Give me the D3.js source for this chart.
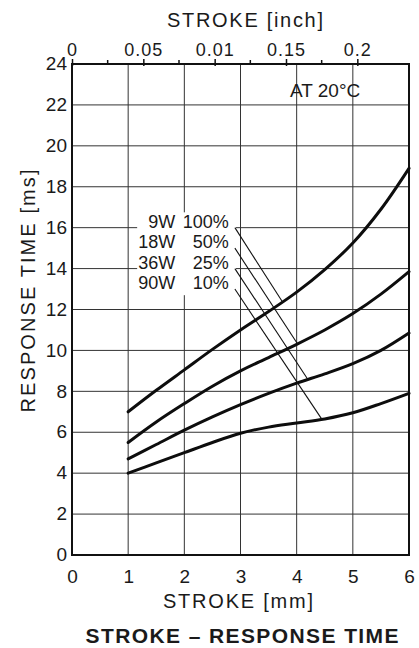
<!DOCTYPE html>
<html>
<head>
<meta charset="utf-8">
<script src="https://cdn.jsdelivr.net/npm/d3@7"></script>
<style>
  html, body { margin: 0; padding: 0; background: #fff; }
  svg text { font-family: "Liberation Sans", Arial, Helvetica, sans-serif; fill: #1a1a1a; }
</style>
</head>
<body>
<div id="chart"></div>
<script>
// stroke positions (mm) where the curves were read
const strokeMm = [1, 1.5, 2, 2.5, 3, 3.5, 4, 4.5, 5, 5.5, 6];

// response time (ms) per drive power / duty
const time9W  = [7.0, 8.05, 9.05, 10.05, 11.0, 11.9, 12.85, 13.95, 15.25, 16.9, 18.9];
const time18W = [5.5, 6.5, 7.4, 8.25, 9.0, 9.65, 10.3, 11.0, 11.8, 12.75, 13.85];
const time36W = [4.7, 5.4, 6.1, 6.75, 7.35, 7.9, 8.4, 8.85, 9.35, 10.0, 10.85];
const time90W = [4.0, 4.5, 5.0, 5.5, 5.95, 6.25, 6.45, 6.65, 6.95, 7.4, 7.9];

// legend text + leader lines (label row level in ms, end point on curve)
const labelPower = ["9W", "18W", "36W", "90W"];
const labelDuty = ["100%", "50%", "25%", "10%"];
const labelLevel = [16, 15, 14, 13];
const leaderEnd = [[3.74, 12.4], [4.02, 10.3], [4.2, 8.58], [4.45, 6.63]];

// tick labels
const mmTicks = [0, 1, 2, 3, 4, 5, 6];
const msTicks = [0, 2, 4, 6, 8, 10, 12, 14, 16, 18, 20, 22, 24];
const inchTicks = [0, 0.05, 0.1, 0.15, 0.2];
const inchTickLabels = ["0", "0.05", "0.01", "0.15", "0.2"];
const inchMinorTicks = [0.025, 0.075, 0.125, 0.175];

const width = 419;
const height = 648;
const margin = { top: 64, right: 10, bottom: 93, left: 72 };

const svg = d3.select("#chart").append("svg")
    .attr("width", width)
    .attr("height", height)
    .attr("viewBox", `0 0 ${width} ${height}`);

const x = d3.scaleLinear().domain([0, 6]).range([margin.left, width - margin.right]);
const y = d3.scaleLinear().domain([0, 24]).range([height - margin.bottom, margin.top]);
// inch scale shares the pixel range with the mm scale
const xInch = d3.scaleLinear().domain([0, 6 / 25.4]).range(x.range());

// grid
const grid = svg.append("g").attr("stroke", "#333").attr("stroke-width", 1);
grid.selectAll(".vgrid")
    .data(mmTicks.slice(1, -1))
    .join("line")
    .attr("x1", d => x(d)).attr("x2", d => x(d))
    .attr("y1", y(0)).attr("y2", y(24));
grid.selectAll(".hgrid")
    .data(msTicks.slice(1, -1))
    .join("line")
    .attr("x1", x(0)).attr("x2", x(6))
    .attr("y1", d => y(d)).attr("y2", d => y(d));

// frame
svg.append("rect")
    .attr("x", x(0)).attr("y", y(24))
    .attr("width", x(6) - x(0)).attr("height", y(0) - y(24))
    .attr("fill", "none").attr("stroke", "#111").attr("stroke-width", 2);

// bottom axis (mm)
const xAxis = svg.append("g")
    .attr("transform", `translate(0,${y(0)})`)
    .call(d3.axisBottom(x).tickValues(mmTicks).tickSize(0).tickPadding(10).tickFormat(d3.format("d")));
xAxis.select(".domain").remove();
xAxis.selectAll("text").attr("font-size", 19).attr("dy", "0.95em");

// left axis (ms)
const yAxis = svg.append("g")
    .attr("transform", `translate(${x(0)},0)`)
    .call(d3.axisLeft(y).tickValues(msTicks).tickSize(0).tickPadding(5).tickFormat(d3.format("d")));
yAxis.select(".domain").remove();
yAxis.selectAll("text").attr("font-size", 19).attr("dy", "0.3em");

// top axis (inch)
const topAxis = svg.append("g")
    .attr("transform", `translate(0,${y(24)})`)
    .call(d3.axisTop(xInch).tickValues(inchTicks).tickSize(5).tickPadding(3)
        .tickFormat((d, i) => inchTickLabels[i]));
topAxis.select(".domain").remove();
topAxis.selectAll("line").attr("stroke", "#111").attr("stroke-width", 1.5).attr("y2", -5).attr("y1", 2);
topAxis.selectAll("text").attr("font-size", 18).attr("letter-spacing", 1);
svg.append("g").selectAll("line")
    .data(inchMinorTicks)
    .join("line")
    .attr("x1", d => xInch(d)).attr("x2", d => xInch(d))
    .attr("y1", y(24) - 4).attr("y2", y(24))
    .attr("stroke", "#111").attr("stroke-width", 1.5);

// white patch behind the legend block
svg.append("rect")
    .attr("x", x(1.16)).attr("y", y(16.75))
    .attr("width", x(2.92) - x(1.16)).attr("height", y(12.7) - y(16.75))
    .attr("fill", "#fff");

// curves
const series = [time9W, time18W, time36W, time90W];
const line = d3.line()
    .x((d, i) => x(strokeMm[i]))
    .y(d => y(d))
    .curve(d3.curveCatmullRom.alpha(0.5));
svg.append("g").selectAll("path")
    .data(series)
    .join("path")
    .attr("d", line)
    .attr("fill", "none")
    .attr("stroke", "#0d0d0d")
    .attr("stroke-width", 3)
    .attr("stroke-linecap", "round");

// leader lines
svg.append("g").selectAll("line")
    .data(leaderEnd)
    .join("line")
    .attr("x1", x(2.9))
    .attr("y1", (d, i) => y(labelLevel[i]))
    .attr("x2", d => x(d[0]))
    .attr("y2", d => y(d[1]))
    .attr("stroke", "#111")
    .attr("stroke-width", 1.1);

// legend text
const legend = svg.append("g").attr("font-size", 18);
legend.selectAll(".pw")
    .data(labelPower)
    .join("text")
    .attr("x", x(1.84))
    .attr("y", (d, i) => y(labelLevel[i]))
    .attr("text-anchor", "end")
    .text(d => d);
legend.selectAll(".duty")
    .data(labelDuty)
    .join("text")
    .attr("x", x(2.79))
    .attr("y", (d, i) => y(labelLevel[i]))
    .attr("text-anchor", "end")
    .text(d => d);

// annotations and titles
svg.append("text")
    .attr("x", 290).attr("y", 97)
    .attr("font-size", 19)
    .text("AT 20°C");

svg.append("text")
    .attr("x", 245).attr("y", 27)
    .attr("text-anchor", "middle")
    .attr("font-size", 20)
    .attr("textLength", 156)
    .attr("lengthAdjust", "spacing")
    .text("STROKE [inch]");

svg.append("text")
    .attr("x", 238).attr("y", 608)
    .attr("text-anchor", "middle")
    .attr("font-size", 20)
    .attr("textLength", 150)
    .attr("lengthAdjust", "spacing")
    .text("STROKE [mm]");

svg.append("text")
    .attr("transform", "translate(35,291) rotate(-90)")
    .attr("text-anchor", "middle")
    .attr("font-size", 20)
    .attr("textLength", 243)
    .attr("lengthAdjust", "spacing")
    .text("RESPONSE TIME [ms]");

svg.append("text")
    .attr("x", 242).attr("y", 643)
    .attr("text-anchor", "middle")
    .attr("font-size", 21)
    .attr("font-weight", "bold")
    .attr("textLength", 313)
    .attr("lengthAdjust", "spacing")
    .text("STROKE – RESPONSE TIME");
</script>
</body>
</html>
